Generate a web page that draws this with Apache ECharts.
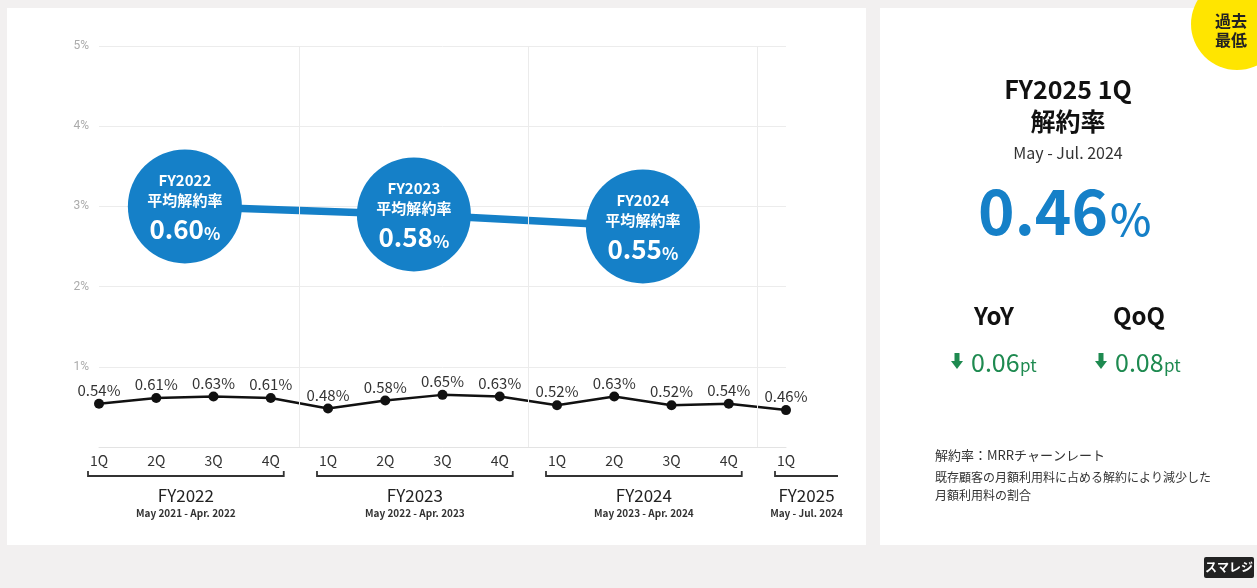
<!DOCTYPE html>
<html><head><meta charset="utf-8">
<script src="https://cdn.jsdelivr.net/npm/echarts@6/dist/echarts.min.js"></script>
<style>
html,body{margin:0;padding:0;background:#f2f0f0;}
#wrap{position:relative;width:1257px;height:588px;overflow:hidden;}
.panel{position:absolute;background:#fff;}
#chart{position:absolute;left:0;top:0;width:1257px;height:588px;}
</style></head><body>
<div id="wrap">
<div class="panel" style="left:7px;top:8px;width:859px;height:537px"></div>
<div class="panel" style="left:880px;top:8px;width:377px;height:537px"></div>
<div id="chart"></div>
</div>
<script>
// ---- data ----
const quarters = ['1Q','2Q','3Q','4Q','1Q','2Q','3Q','4Q','1Q','2Q','3Q','4Q','1Q'];
const churnRate = [0.54,0.61,0.63,0.61,0.48,0.58,0.65,0.63,0.52,0.63,0.52,0.54,0.46];
const fiscalYears = ['FY2022','FY2023','FY2024','FY2025'];
const fyPeriods = ['May 2021 - Apr. 2022','May 2022 - Apr. 2023','May 2023 - Apr. 2024','May - Jul. 2024'];
const fyFirstQ = [0,4,8,12];
const fyLastQ = [3,7,11,12];
const avgYears = ['FY2022','FY2023','FY2024'];
const avgPos = [1.5,5.5,9.5];
const avgRate = [0.60,0.58,0.55];
const yMin = 0, yMax = 5, yStep = 1;
const latestLabel = 'FY2025 1Q';
const latestPeriod = 'May - Jul. 2024';
const latestRate = 0.46;
const yoyDelta = 0.06;
const qoqDelta = 0.08;

const FONT = '"Noto Sans CJK JP", "Noto Sans", sans-serif';
const BLUE = '#1580c8';
const GREEN = '#1e8a50';

const chart = echarts.init(document.getElementById('chart'), null, {renderer:'canvas'});

const separators = fyLastQ.slice(0, 3).map(q => ({xAxis: q + 0.5}));

const option = {
  animation: false,
  textStyle: {fontFamily: FONT},
  grid: {left: 99, right: 471, top: 46, bottom: 141, containLabel: false},
  xAxis: [
    {type: 'category', data: quarters, boundaryGap: false,
     axisLine: {show: true, lineStyle: {color: '#e3e3e3'}},
     axisTick: {show: false}, splitLine: {show: false},
     axisLabel: {color: '#333', fontSize: 14, margin: 7, fontFamily: FONT}},
    {type: 'value', min: 0, max: quarters.length - 1, show: false}
  ],
  yAxis: [
    {type: 'value', min: yMin, max: yMax, interval: yStep,
     axisLine: {show: false}, axisTick: {show: false},
     splitLine: {lineStyle: {color: '#ececec'}},
     axisLabel: {color: '#ababab', fontSize: 12, margin: 10, fontFamily: 'Roboto',
       formatter: v => v === 0 ? '' : v + '%'}},
    {type: 'value', min: 0, max: 1, show: false}
  ],
  series: [
    {type: 'line', xAxisIndex: 1, yAxisIndex: 0, data: [], silent: true,
     markLine: {silent: true, symbol: 'none', label: {show: false},
       lineStyle: {color: '#ebebeb', type: 'solid', width: 1},
       data: separators}},
    {type: 'line', xAxisIndex: 1, yAxisIndex: 1, z: 3,
     data: avgPos.map((x, i) => [x, avgRate[i]]),
     symbol: 'circle', symbolSize: 114,
     lineStyle: {color: BLUE, width: 7.5},
     itemStyle: {color: BLUE},
     emphasis: {disabled: true},
     label: {show: true, position: 'inside',
       formatter: p => `{y|${avgYears[p.dataIndex]}}\n{t|平均解約率}\n{v|${avgRate[p.dataIndex].toFixed(2)}}{p|%}`,
       rich: {
         y: {color: '#fff', fontSize: 15, fontWeight: 'bold', lineHeight: 20, fontFamily: FONT},
         t: {color: '#fff', fontSize: 15, fontWeight: 'bold', lineHeight: 20, fontFamily: FONT},
         v: {color: '#fff', fontSize: 26, fontWeight: 'bold', lineHeight: 32, fontFamily: FONT, verticalAlign: 'bottom'},
         p: {color: '#fff', fontSize: 17, fontWeight: 'bold', lineHeight: 28, fontFamily: FONT, verticalAlign: 'bottom'}
       }}},
    {type: 'line', xAxisIndex: 0, yAxisIndex: 0, z: 4,
     data: churnRate,
     symbol: 'circle', symbolSize: 10,
     lineStyle: {color: '#111', width: 2.5},
     itemStyle: {color: '#111'},
     emphasis: {disabled: true},
     label: {show: true, position: 'top', distance: 1, color: '#333', fontSize: 15, fontFamily: FONT,
       formatter: p => p.value.toFixed(2) + '%'}}
  ]
};
chart.setOption(option);

// ---- bracket annotations computed from the axis ----
const gfx = [];
const brY = 476;
fyFirstQ.forEach((q0, i) => {
  const q1 = fyLastQ[i];
  const x0 = chart.convertToPixel({xAxisIndex: 0}, q0);
  const x1 = chart.convertToPixel({xAxisIndex: 0}, q1);
  const open = q0 === q1;
  const l = x0 - 11;
  const r = open ? x1 + 52 : x1 + 13;
  const pts = open ? [[l, brY - 5], [l, brY], [r, brY]] : [[l, brY - 5], [l, brY], [r, brY], [r, brY - 5]];
  gfx.push({type: 'polyline', shape: {points: pts}, style: {stroke: '#333', lineWidth: 1.8, fill: null}, silent: true});
  const mid = (l + r) / 2;
  gfx.push({type: 'text', x: mid, y: 496, style: {text: fiscalYears[i], align: 'center', verticalAlign: 'middle',
    font: '17px ' + FONT, fill: '#222'}, silent: true});
  gfx.push({type: 'text', x: mid, y: 513, style: {text: fyPeriods[i], align: 'center', verticalAlign: 'middle',
    font: 'bold 10px ' + FONT, fill: '#333'}, silent: true});
});

// ---- right panel ----
const cx = 1068;
gfx.push({type: 'circle', shape: {cx: 1237, cy: 24, r: 46}, style: {fill: '#ffe500'}, silent: true});
gfx.push({type: 'text', x: 1231, y: 21, style: {text: '過去', align: 'center', verticalAlign: 'middle', font: 'bold 16px ' + FONT, fill: '#222'}});
gfx.push({type: 'text', x: 1231, y: 40, style: {text: '最低', align: 'center', verticalAlign: 'middle', font: 'bold 16px ' + FONT, fill: '#222'}});
gfx.push({type: 'text', x: cx, y: 89, style: {text: latestLabel, align: 'center', verticalAlign: 'middle', font: 'bold 25px ' + FONT, fill: '#111'}});
gfx.push({type: 'text', x: cx, y: 121, style: {text: '解約率', align: 'center', verticalAlign: 'middle', font: 'bold 25px ' + FONT, fill: '#111'}});
gfx.push({type: 'text', x: cx, y: 153, style: {text: latestPeriod, align: 'center', verticalAlign: 'middle', font: '16px ' + FONT, fill: '#333'}});
gfx.push({type: 'text', x: 1108, y: 211, style: {text: latestRate.toFixed(2), align: 'right', verticalAlign: 'middle', font: 'bold 62px ' + FONT, fill: BLUE}});
gfx.push({type: 'text', x: 1110, y: 219, style: {text: '%', align: 'left', verticalAlign: 'middle', font: '500 44px ' + FONT, fill: BLUE}});
gfx.push({type: 'text', x: 994, y: 316, style: {text: 'YoY', align: 'center', verticalAlign: 'middle', font: 'bold 24px ' + FONT, fill: '#111'}});
gfx.push({type: 'text', x: 1139, y: 316, style: {text: 'QoQ', align: 'center', verticalAlign: 'middle', font: 'bold 24px ' + FONT, fill: '#111'}});
function arrow(x, y) {
  return {type: 'polygon', shape: {points: [[x - 2.5, y - 8], [x + 2.5, y - 8], [x + 2.5, y], [x + 6, y], [x, y + 8], [x - 6, y], [x - 2.5, y]]},
    style: {fill: GREEN}, silent: true};
}
gfx.push(arrow(957, 361));
gfx.push({type: 'text', x: 971, y: 362, style: {text: yoyDelta.toFixed(2), align: 'left', verticalAlign: 'middle', font: '25px ' + FONT, fill: GREEN}});
gfx.push({type: 'text', x: 1020, y: 366, style: {text: 'pt', align: 'left', verticalAlign: 'middle', font: '17px ' + FONT, fill: GREEN}});
gfx.push(arrow(1101, 361));
gfx.push({type: 'text', x: 1115, y: 362, style: {text: qoqDelta.toFixed(2), align: 'left', verticalAlign: 'middle', font: '25px ' + FONT, fill: GREEN}});
gfx.push({type: 'text', x: 1164, y: 366, style: {text: 'pt', align: 'left', verticalAlign: 'middle', font: '17px ' + FONT, fill: GREEN}});
gfx.push({type: 'text', x: 935, y: 455, style: {text: '解約率：MRRチャーンレート', align: 'left', verticalAlign: 'middle', font: '13px ' + FONT, fill: '#333'}});
gfx.push({type: 'text', x: 935, y: 477, style: {text: '既存顧客の月額利用料に占める解約により減少した', align: 'left', verticalAlign: 'middle', font: '12px ' + FONT, fill: '#333'}});
gfx.push({type: 'text', x: 935, y: 495, style: {text: '月額利用料の割合', align: 'left', verticalAlign: 'middle', font: '12px ' + FONT, fill: '#333'}});
// logo
gfx.push({type: 'rect', shape: {x: 1204, y: 557, width: 50, height: 21, r: 2}, style: {fill: '#222'}, silent: true});
gfx.push({type: 'text', x: 1229, y: 567.5, style: {text: 'スマレジ', align: 'center', verticalAlign: 'middle', font: 'bold 12px ' + FONT, fill: '#fff'}});

chart.setOption({graphic: {elements: gfx}});
</script>
</body></html>
